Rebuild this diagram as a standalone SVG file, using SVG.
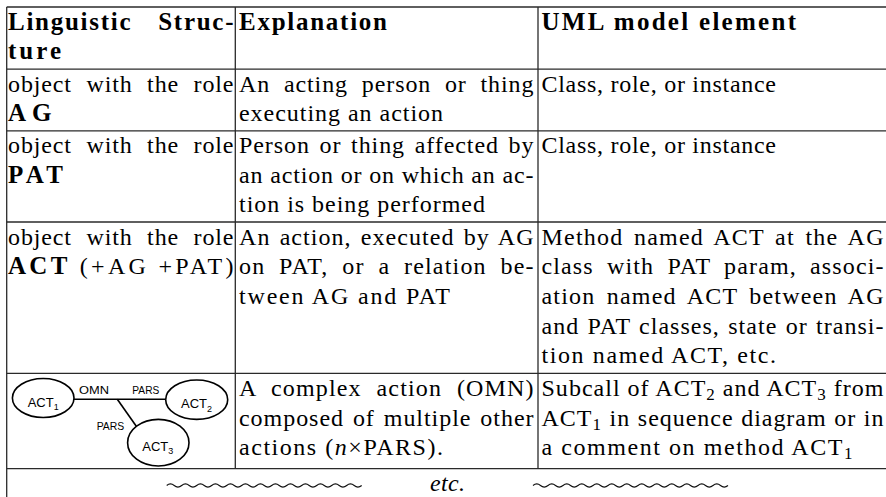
<svg xmlns="http://www.w3.org/2000/svg" width="886" height="497" viewBox="0 0 886 497">
<style>
.serif{font-family:'Liberation Serif','Times New Roman',serif;font-size:24px;fill:#000}
.bold{font-weight:bold;font-size:25px}
.it{font-style:italic}
.sub{font-size:17px}
.sans{font-family:'Liberation Sans',Arial,sans-serif;fill:#000}
.lbl{font-size:11px}
.nm{font-size:13px}
.sb{font-size:9px}
.rule{stroke:#2a2a2a;stroke-width:1.3;fill:none}
.node{fill:#fff;stroke:#000;stroke-width:1.6}
.edge{stroke:#000;stroke-width:1.6;fill:none}
.wave{stroke:#111;stroke-width:1.1;fill:none}
</style>
<rect width="886" height="497" fill="#fff"/>
<g id="grid" class="rule">
<line x1="6.7" y1="7" x2="886" y2="7"/>
<line x1="6.7" y1="69.2" x2="886" y2="69.2"/>
<line x1="6.7" y1="130.8" x2="886" y2="130.8"/>
<line x1="6.7" y1="222" x2="886" y2="222"/>
<line x1="6.7" y1="373.3" x2="886" y2="373.3"/>
<line x1="6.7" y1="468.7" x2="886" y2="468.7"/>
<line x1="6.7" y1="7" x2="6.7" y2="497"/>
<line x1="235.3" y1="7" x2="235.3" y2="468.7"/>
<line x1="538" y1="7" x2="538" y2="468.7"/>
</g>
<g id="header" class="serif">
<text class="bold" x="8" y="29.5" word-spacing="18" textLength="225.5">Linguistic Struc-</text>
<text class="bold" x="8" y="59.2" textLength="53">ture</text>
<text class="bold" x="239" y="29.5" textLength="148">Explanation</text>
<text class="bold" x="541.5" y="29.5" textLength="254.5">UML model element</text>
</g>
<g id="row-ag" class="serif">
<text x="8" y="91.7" word-spacing="7.6" textLength="225.5">object with the role</text>
<text class="bold" x="8" y="121.4" textLength="43.5">AG</text>
<text x="239" y="91.7" word-spacing="6.8" textLength="294.5">An acting person or thing</text>
<text x="239" y="121.4" textLength="204">executing an action</text>
<text x="541.5" y="91.7" textLength="234.5">Class, role, or instance</text>
</g>
<g id="row-pat" class="serif">
<text x="8" y="153.3" word-spacing="7.6" textLength="225.5">object with the role</text>
<text class="bold" x="8" y="182.6" textLength="55">PAT</text>
<text x="239" y="153.3" word-spacing="2.8" textLength="294.5">Person or thing affected by</text>
<text x="239" y="182.6" textLength="294.5">an action or on which an ac-</text>
<text x="239" y="211.9" textLength="246">tion is being performed</text>
<text x="541.5" y="153.3" textLength="234.5">Class, role, or instance</text>
</g>
<g id="row-act" class="serif">
<text x="8" y="244.5" word-spacing="7.6" textLength="225.5">object with the role</text>
<text x="8" y="274.2" textLength="225.5"><tspan class="bold">ACT</tspan> (+AG +PAT)</text>
<text x="239" y="244.5" word-spacing="2.2" textLength="294.5">An action, executed by AG</text>
<text x="239" y="274.2" word-spacing="6.6" textLength="294.5">on PAT, or a relation be-</text>
<text x="239" y="303.9" textLength="211">tween AG and PAT</text>
<text x="541.5" y="244.5" word-spacing="3.4" textLength="342">Method named ACT at the AG</text>
<text x="541.5" y="274.2" word-spacing="6.1" textLength="342">class with PAT param, associ-</text>
<text x="541.5" y="303.9" word-spacing="4.1" textLength="342">ation named ACT between AG</text>
<text x="541.5" y="333.6" word-spacing="1.3" textLength="342">and PAT classes, state or transi-</text>
<text x="541.5" y="363.3" textLength="234.5">tion named ACT, etc.</text>
</g>
<g id="row-omn" class="serif">
<text x="239" y="395.8" word-spacing="7.8" textLength="294.5">A complex action (OMN)</text>
<text x="239" y="425.5" word-spacing="2" textLength="294.5">composed of multiple other</text>
<text x="239" y="455.2" textLength="204">actions (<tspan class="it">n</tspan>×PARS).</text>
<text x="541.5" y="395.8" textLength="342">Subcall of ACT<tspan class="sub" dy="4">2</tspan><tspan dy="-4"> and ACT</tspan><tspan class="sub" dy="4">3</tspan><tspan dy="-4"> from</tspan></text>
<text x="541.5" y="425.5" word-spacing="0.7" textLength="342">ACT<tspan class="sub" dy="4">1</tspan><tspan dy="-4"> in sequence diagram or in</tspan></text>
<text x="541.5" y="455.2" textLength="311">a comment on method ACT<tspan class="sub" dy="4">1</tspan></text>
</g>
<g id="connectors" class="sans">
<line class="edge" x1="74" y1="399.3" x2="166" y2="399.3"/>
<line class="edge" x1="117.3" y1="399.3" x2="136.3" y2="426.2"/>
<text class="lbl" x="79" y="394.3" textLength="30" lengthAdjust="spacingAndGlyphs">OMN</text>
<text class="lbl" x="132.3" y="394.3" textLength="27" lengthAdjust="spacingAndGlyphs">PARS</text>
<text class="lbl" x="96.7" y="430" textLength="27.6" lengthAdjust="spacingAndGlyphs">PARS</text>
</g>
<g id="act1" class="sans">
<ellipse class="node" cx="43.2" cy="398" rx="30.8" ry="19.5"/>
<text class="nm" x="27.7" y="406.7">ACT<tspan class="sb" dy="3.3">1</tspan></text>
</g>
<g id="act2" class="sans">
<ellipse class="node" cx="196.7" cy="399.7" rx="31" ry="19.7"/>
<text class="nm" x="181" y="408.3">ACT<tspan class="sb" dy="3.3">2</tspan></text>
</g>
<g id="act3" class="sans">
<ellipse class="node" cx="158.3" cy="442.7" rx="30.7" ry="23.3"/>
<text class="nm" x="142.3" y="450.5">ACT<tspan class="sb" dy="3.3">3</tspan></text>
</g>
<g id="etc-row" class="serif">
<path class="wave" d="M166.7,485.5 q3.75,-3.2 7.5,0 t7.5,0 t7.5,0 t7.5,0 t7.5,0 t7.5,0 t7.5,0 t7.5,0 t7.5,0 t7.5,0 t7.5,0 t7.5,0 t7.5,0 t7.5,0 t7.5,0 t7.5,0 t7.5,0 t7.5,0 t7.5,0 t7.5,0 t7.5,0 t7.5,0 t7.5,0 t7.5,0 t7.5,0 t7.5,0"/>
<text class="it" x="430" y="491.3" textLength="35">etc.</text>
<path class="wave" d="M533,485.5 q3.75,-3.2 7.5,0 t7.5,0 t7.5,0 t7.5,0 t7.5,0 t7.5,0 t7.5,0 t7.5,0 t7.5,0 t7.5,0 t7.5,0 t7.5,0 t7.5,0 t7.5,0 t7.5,0 t7.5,0 t7.5,0 t7.5,0 t7.5,0 t7.5,0 t7.5,0 t7.5,0 t7.5,0 t7.5,0 t7.5,0 t7.5,0"/>
</g>
</svg>
